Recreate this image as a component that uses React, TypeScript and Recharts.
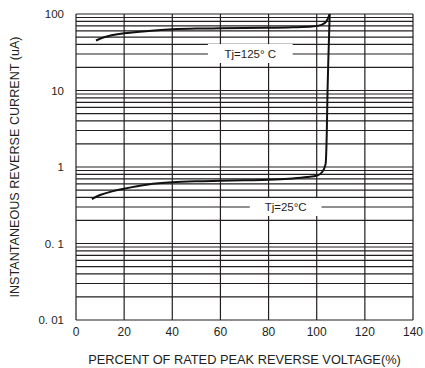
import React from "react";
import {
  LineChart,
  Line,
  XAxis,
  YAxis,
  ReferenceLine,
  ReferenceArea,
  Label,
} from "recharts";

// percent of rated peak reverse voltage vs reverse current (uA)
const tj125 = [
  { x: 8.3, y: 45 },
  { x: 12, y: 50 },
  { x: 20, y: 56 },
  { x: 30, y: 60 },
  { x: 40, y: 63 },
  { x: 50, y: 64.5 },
  { x: 60, y: 65 },
  { x: 70, y: 65.5 },
  { x: 80, y: 66 },
  { x: 90, y: 67 },
  { x: 98, y: 68.5 },
  { x: 102, y: 72 },
  { x: 104, y: 80 },
  { x: 105.4, y: 100 },
];

const tj25 = [
  { x: 6.6, y: 0.38 },
  { x: 10, y: 0.43 },
  { x: 15, y: 0.48 },
  { x: 20, y: 0.52 },
  { x: 30, y: 0.59 },
  { x: 40, y: 0.63 },
  { x: 50, y: 0.65 },
  { x: 60, y: 0.66 },
  { x: 70, y: 0.67 },
  { x: 80, y: 0.68 },
  { x: 90, y: 0.71 },
  { x: 96, y: 0.74 },
  { x: 100, y: 0.77 },
  { x: 102.3, y: 0.86 },
  { x: 103.7, y: 1.1 },
  { x: 104.2, y: 3 },
  { x: 104.5, y: 10 },
  { x: 104.9, y: 30 },
  { x: 105.4, y: 100 },
];

const xTicks = [0, 20, 40, 60, 80, 100, 120, 140];
const yTicks = [0.01, 0.1, 1, 10, 100];
const yTickLabels: Record<number, string> = {
  0.01: "0. 01",
  0.1: "0. 1",
  1: "1",
  10: "10",
  100: "100",
};
const decades = [0.01, 0.1, 1, 10];
const minorSteps = [1, 2, 3, 4, 5, 6, 7, 8, 9];
const gridY = [...decades.flatMap((d) => minorSteps.map((k) => +(d * k).toPrecision(3))), 100];

const ink = "#231f20";
const font = "Arial, 'Liberation Sans', sans-serif";

export default function App() {
  return (
    <div style={{ position: "absolute", left: 0, top: 0, background: "#fff" }}>
      <LineChart
        width={425}
        height={368}
        margin={{ top: 14, right: 12, bottom: 3, left: 10 }}
        style={{ fontFamily: font }}
      >
        <XAxis
          type="number"
          dataKey="x"
          domain={[0, 140]}
          ticks={xTicks}
          axisLine={false}
          tickLine={false}
          tickSize={0}
          tickMargin={7}
          height={45}
          tick={{ fontSize: 12, fill: ink }}
          allowDataOverflow
        >
          <Label
            value="PERCENT OF RATED PEAK REVERSE VOLTAGE(%)"
            position="insideBottom"
            offset={1}
            style={{ fontSize: 12.8, fill: ink }}
          />
        </XAxis>
        <YAxis
          type="number"
          dataKey="y"
          scale="log"
          domain={[0.01, 100]}
          ticks={yTicks}
          tickFormatter={(v: number) => yTickLabels[v] ?? String(v)}
          axisLine={false}
          tickLine={false}
          tickSize={0}
          tickMargin={12}
          width={66}
          tick={{ fontSize: 11.5, fill: ink }}
          allowDataOverflow
        >
          <Label
            value="INSTANTANEOUS REVERSE CURRENT  (uA)"
            angle={-90}
            position="insideLeft"
            offset={5}
            style={{ fontSize: 12.6, fill: ink, textAnchor: "middle" }}
          />
        </YAxis>
        {gridY.map((v) => (
          <ReferenceLine key={"h" + v} y={v} stroke={ink} strokeWidth={1.2} zIndex={-50} />
        ))}
        {xTicks.map((v) => (
          <ReferenceLine key={"v" + v} x={v} stroke={ink} strokeWidth={1.2} zIndex={-50} />
        ))}
        <ReferenceArea
          x1={54.8}
          x2={90}
          y1={22.9}
          y2={40.6}
          fill="#fff"
          fillOpacity={1}
          stroke="none"
          zIndex={50}
          label={{ value: "Tj=125°  C", position: "center", fontSize: 11.5, fill: ink }}
        />
        <ReferenceArea
          x1={72.2}
          x2={102}
          y1={0.229}
          y2={0.394}
          fill="#fff"
          fillOpacity={1}
          stroke="none"
          zIndex={50}
          label={{ value: "Tj=25°C", position: "center", fontSize: 11.5, fill: ink }}
        />
        <Line
          data={tj125}
          dataKey="y"
          type="monotone"
          stroke="#111"
          strokeWidth={2}
          dot={false}
          isAnimationActive={false}
        />
        <Line
          data={tj25}
          dataKey="y"
          type="monotone"
          stroke="#111"
          strokeWidth={2}
          dot={false}
          isAnimationActive={false}
        />
      </LineChart>
    </div>
  );
}
